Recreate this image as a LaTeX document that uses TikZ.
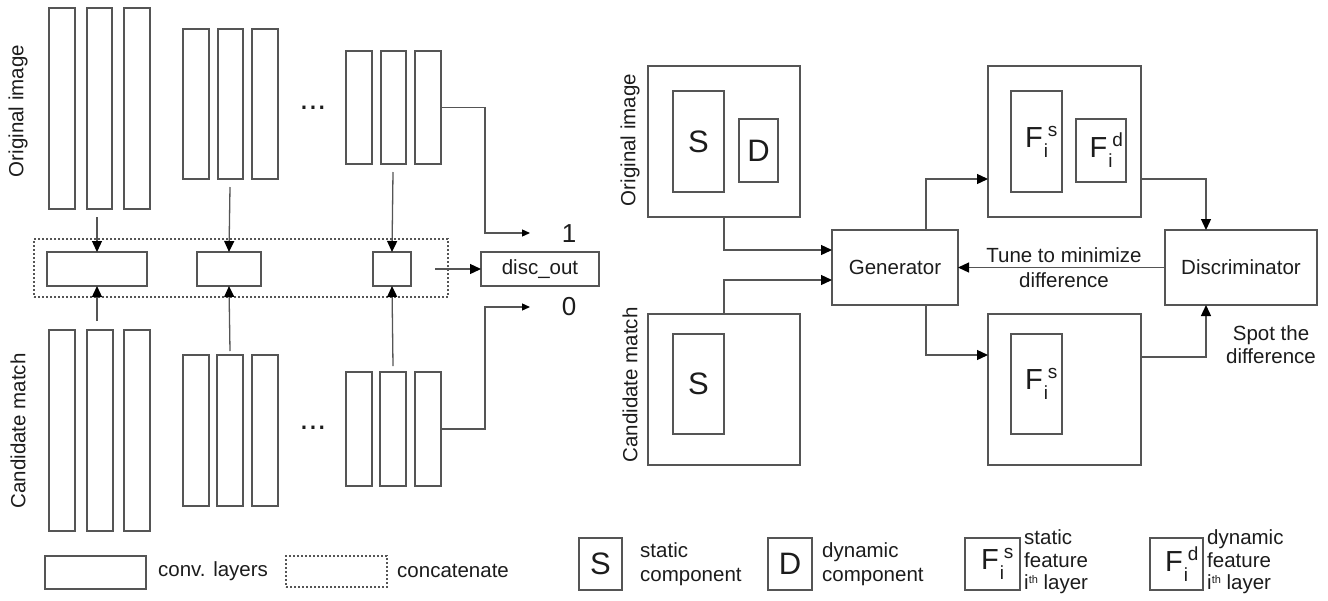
\documentclass[tikz,border=0pt]{standalone}
\usepackage{fontspec}
\setmainfont{Liberation Sans}
\usetikzlibrary{arrows.meta}
\definecolor{ln}{HTML}{555555}
\definecolor{tx}{HTML}{1C1C1C}
\definecolor{bf}{HTML}{FFFFFF}
\newcommand{\bx}[7][]{\node[box,#1,minimum width={#5-#3},minimum height={#6-#4}] (#2) at ({(#3+#5)/2},{(#4+#6)/2}) {#7};}
\newcommand{\featlbl}[1]{{\fontsize{29}{29}\selectfont F}\hspace{1pt}\rlap{\fontsize{19}{19}\selectfont\hspace{4pt}\raisebox{11pt}{#1}}{\fontsize{19}{19}\selectfont\raisebox{-10pt}{i}}\hspace{9pt}}
\newcommand{\ith}{i\raisebox{6pt}{\fontsize{11}{11}\selectfont th} layer}
\begin{document}
\begin{tikzpicture}[x=1pt,y=-1pt,
  box/.style={draw=ln,line width=1.3pt,fill=bf,inner sep=0pt,outer sep=0pt,text=tx,font=\fontsize{20.5}{24}\selectfont},
  dbox/.style={draw=ln,line width=1.2pt,dash pattern=on 2pt off 2pt,inner sep=0pt,outer sep=0pt},
  big/.style={font=\fontsize{31}{31}\selectfont},
  lbl/.style={text=tx,font=\fontsize{20.5}{24}\selectfont,inner sep=0pt},
  dots/.style={text=tx,font=\fontsize{32}{32}\selectfont,inner sep=0pt,anchor=base},
  arr/.style={draw=ln,line width=1.3pt,-{Triangle[length=11pt,width=10pt,color=black]}},
  sarr/.style={draw=ln,line width=1.3pt,-{Triangle[length=8pt,width=7pt,color=black]}},
  con/.style={draw=ln,line width=1.3pt}]
\useasboundingbox (0,0) rectangle (1328,600);
% ---------------- left part ----------------
\node[lbl,rotate=90] (lo) at (18,111) {Original image};
\node[lbl,rotate=90] (lc) at (18,431) {Candidate match};
% original image layers
\bx{o1a}{49}{8}{75}{209}{}
\bx{o1b}{87}{8}{112}{209}{}
\bx{o1c}{124}{8}{150}{209}{}
\bx{o2a}{183}{29}{209}{179}{}
\bx{o2b}{218}{29}{243}{179}{}
\bx{o2c}{252}{29}{278}{179}{}
\bx{o3a}{346}{51}{372}{164}{}
\bx{o3b}{381}{51}{406}{164}{}
\bx{o3c}{415}{51}{441}{164}{}
\node[dots] (od) at (313,109) {...};
% candidate layers
\bx{k1a}{49}{330}{75}{531}{}
\bx{k1b}{87}{330}{113}{531}{}
\bx{k1c}{124}{330}{150}{531}{}
\bx{k2a}{183}{355}{209}{506}{}
\bx{k2b}{217}{355}{243}{506}{}
\bx{k2c}{252}{355}{278}{506}{}
\bx{k3a}{346}{372}{372}{486}{}
\bx{k3b}{380}{372}{406}{486}{}
\bx{k3c}{415}{372}{441}{486}{}
\node[dots] (kd) at (313,429) {...};
% concatenation
\node[dbox,minimum width=414,minimum height=58] (cat) at (241,268) {};
\bx{c1}{47}{252}{147}{286}{}
\bx{c2}{197}{252}{261}{286}{}
\bx{c3}{373}{252}{411}{286}{}
\bx{disc}{481}{252}{599}{286}{disc\_out}
\node[lbl,font=\fontsize{26}{26}\selectfont] (one) at (569,234) {1};
\node[lbl,font=\fontsize{26}{26}\selectfont] (zero) at (569,307) {0};
\coordinate (s1) at (97,217);
\coordinate (s2) at (230,187);
\coordinate (s3) at (393,172);
\coordinate (t1) at (97,321);
\coordinate (t2) at (230,351);
\coordinate (t3) at (393,366);
\draw[arr] (s1) -- (c1.north);
\draw[arr] (s2) -- (c2.north);
\draw[arr] (s3) -- (c3.north);
\draw[arr] (t1) -- (c1.south);
\draw[arr] (t2) -- (c2.south);
\draw[arr] (t3) -- (c3.south);
\coordinate (cs) at (435,269);
\draw[arr] (cs) -- (disc.west);
\coordinate (e1) at (530,233);
\coordinate (e0) at (530,307);
\draw[sarr] (o3c.east) -- (485,107.5) -- (485,233) -- (e1);
\draw[sarr] (k3c.east) -- (485,429) -- (485,307) -- (e0);
% legend left
\bx{lgc}{45}{556}{146}{589}{}
\node[lbl,anchor=west] (lgct) at (158,571) {conv. layers};
\node[dbox,minimum width=101,minimum height=31] (lgd) at (336.5,571.5) {};
\node[lbl,anchor=west] (lgdt) at (397,571) {concatenate};
% ---------------- right part ----------------
\node[lbl,rotate=90] (ro) at (630,140) {Original image};
\node[lbl,rotate=90] (rc) at (630,385) {Candidate match};
\bx{orig}{648}{66}{800}{217}{}
\bx[big]{origS}{673}{91}{724}{192}{S}
\bx[big]{origD}{739}{119}{778}{182}{D}
\bx{cand}{648}{314}{800}{465}{}
\bx[big]{candS}{673}{334}{724}{434}{S}
\bx{gen}{832}{230}{958}{305}{Generator}
\bx{fu}{988}{66}{1141}{217}{}
\bx{fus}{1011}{91}{1062}{192}{\featlbl{s}}
\bx{fud}{1076}{119}{1126}{182}{\featlbl{d}}
\bx{fl}{988}{314}{1141}{465}{}
\bx{fls}{1011}{334}{1062}{434}{\featlbl{s}}
\bx{dis}{1165}{230}{1317}{305}{Discriminator}
\draw[arr] (origS.east |- orig.south) |- ([yshift=17.5pt]gen.west);
\draw[arr] (candS.east |- cand.north) |- ([yshift=-12.5pt]gen.west);
\draw[arr] ([xshift=31pt]gen.north) |- ([yshift=-37.5pt]fu.west);
\draw[arr] ([xshift=31pt]gen.south) |- ([yshift=34.5pt]fl.west);
\draw[arr] ([yshift=-37.5pt]fu.east) -| ([xshift=-35pt]dis.north);
\draw[arr] ([yshift=32.5pt]fl.east) -| ([xshift=-35pt]dis.south);
\draw[arr] (dis.west) -- (gen.east);
\node[lbl,align=center,font=\fontsize{20.5}{25}\selectfont] (tune) at (1064,268) {Tune to minimize\\difference};
\node[lbl,align=center,font=\fontsize{20.5}{23}\selectfont] (spot) at (1271,345) {Spot the\\difference};
% legend right
\bx[big]{lgS}{579}{538}{622}{590}{S}
\node[lbl,anchor=west,align=left] (lgSt) at (640,564) {static\\component};
\bx[big]{lgD}{768}{538}{812}{590}{D}
\node[lbl,anchor=west,align=left] (lgDt) at (822,564) {dynamic\\component};
\bx{lgF}{965}{538}{1020}{590}{\featlbl{s}}
\node[lbl,anchor=west,align=left,font=\fontsize{20.5}{22.5}\selectfont] (lgFt) at (1024,562) {static\\feature\\\ith};
\bx{lgG}{1150}{538}{1203}{590}{\featlbl{d}}
\node[lbl,anchor=west,align=left,font=\fontsize{20.5}{22.5}\selectfont] (lgGt) at (1207,562) {dynamic\\feature\\\ith};
\end{tikzpicture}
\end{document}
